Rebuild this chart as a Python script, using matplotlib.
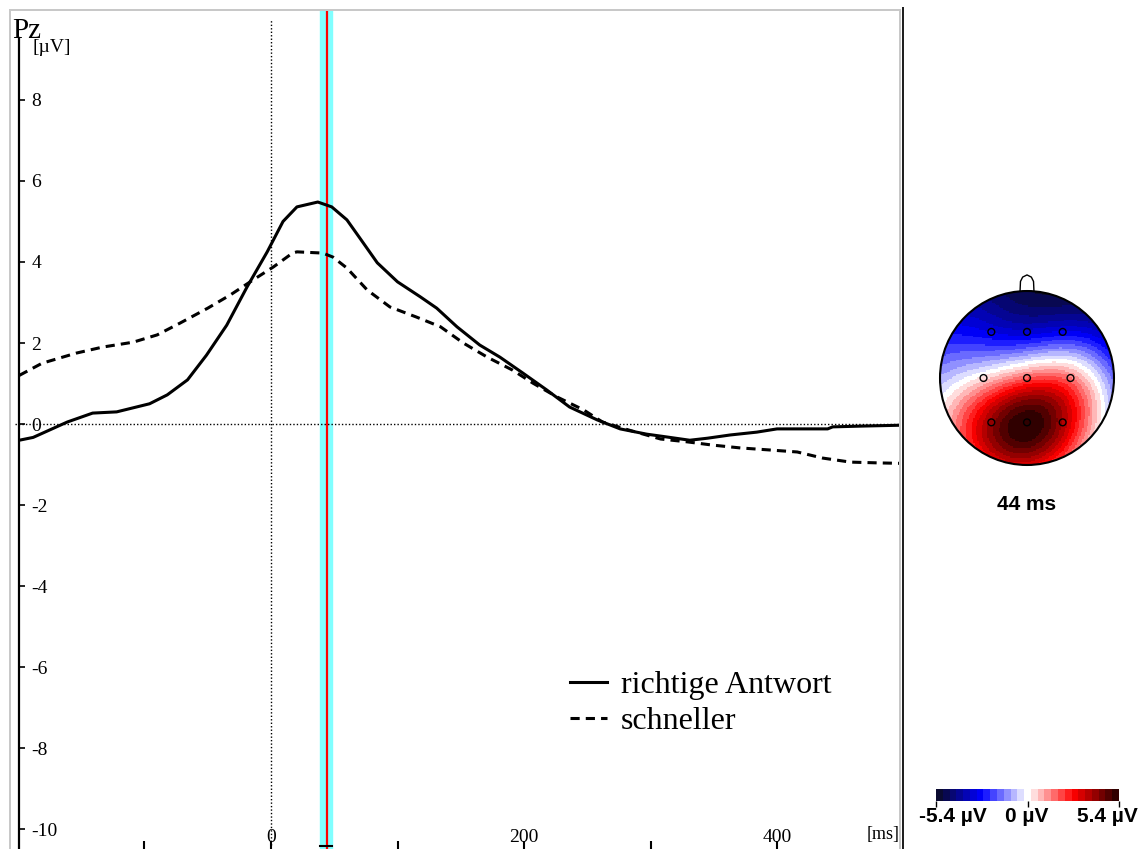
import numpy as np
import matplotlib
matplotlib.use("Agg")
import matplotlib.pyplot as plt
from matplotlib.colors import LinearSegmentedColormap, Normalize
from matplotlib.lines import Line2D
from matplotlib.patches import Circle
from matplotlib.cm import ScalarMappable
from numpy.polynomial import legendre

# ERP at Pz (ms, microvolt)
t_richtig = [-199, -188, -161, -141, -122, -109, -96, -82, -66, -51, -35, -19, -3, 9.5, 20.5,
             37, 48, 60, 70, 84, 100, 118, 131, 147, 165, 181, 199, 218, 236, 258, 276,
             297, 313, 331, 345, 363, 384, 400, 440, 444, 468, 497]
v_richtig = [-0.4, -0.33, 0.05, 0.27, 0.3, 0.4, 0.5, 0.72, 1.09, 1.7, 2.44, 3.38, 4.25, 5.0, 5.36,
             5.48, 5.36, 5.04, 4.6, 3.98, 3.51, 3.14, 2.86, 2.4, 1.95, 1.65, 1.26, 0.84, 0.42, 0.1, -0.12,
             -0.25, -0.32, -0.4, -0.35, -0.27, -0.2, -0.12, -0.12, -0.07, -0.05, -0.03]

t_schnell = [-199, -181, -154, -133, -109, -90, -72, -50, -32, -14, 2, 17, 20.5, 41, 49, 60,
             76, 94, 115, 134, 152, 171, 191, 207, 226, 247, 262, 283, 308, 329, 349, 371,
             394, 416, 436, 458, 481, 497]
v_schnell = [1.2, 1.5, 1.75, 1.9, 2.02, 2.2, 2.49, 2.86, 3.19, 3.56, 3.88, 4.22, 4.25, 4.22, 4.12, 3.85,
             3.31, 2.89, 2.64, 2.4, 2.0, 1.65, 1.33, 1.01, 0.67, 0.35, 0.05, -0.15, -0.37, -0.44, -0.52, -0.59,
             -0.64, -0.69, -0.84, -0.94, -0.96, -0.97]

legend_labels = ["richtige Antwort", "schneller"]
y_ticks = [8, 6, 4, 2, 0, -2, -4, -6, -8, -10]
x_ticks = [-100, 0, 100, 200, 300, 400]
x_ticklabels = ["", "0", "", "200", "", "400"]

# cursor / topography
t_cursor = 44
cursor_band = (39, 48.5)
map_limit = 5.4
electrodes = ["F3", "Fz", "F4", "C3", "Cz", "C4", "P3", "Pz", "P4"]
elec_x = [-0.41, 0.0, 0.41, -0.5, 0.0, 0.5, -0.41, 0.0, 0.41]
elec_y = [0.53, 0.53, 0.53, 0.0, 0.0, 0.0, -0.51, -0.51, -0.51]
elec_val = [-3.0, -3.2, -2.9, 0.4, 1.8, 1.5, 4.0, 5.4, 3.8]

W, H = 1145, 849
fig = plt.figure(figsize=(W / 100, H / 100), dpi=100)
serif = "Liberation Serif"
sans = "Liberation Sans"

# main ERP axes
ax = fig.add_axes([19 / W, 0, 881 / W, 839 / H])
ax.set_xlim(-199.2, 497.2)
ax.set_ylim(-10.49, 10.22)
for s in ["top", "right", "bottom"]:
    ax.spines[s].set_visible(False)
ax.spines["left"].set_bounds(-10.49, 9.53)
ax.spines["left"].set_linewidth(1.6)

ax.axvspan(*cursor_band, color="#80ffff", zorder=1)
ax.axvline(t_cursor, color="red", lw=1.6, zorder=2)
ax.plot(cursor_band, [-10.42, -10.42], color="black", lw=1.5, clip_on=False)

ax.plot([-202, 497.2], [0, 0], color="black", lw=1, ls=(0, (1, 1.5)), clip_on=False, zorder=2)
ax.plot([0, 0], [-10.4, 10.0], color="black", lw=1, ls=(0, (1, 1.5)), zorder=2)

l1, = ax.plot(t_richtig, v_richtig, color="black", lw=2.2, zorder=3)
l2, = ax.plot(t_schnell, v_schnell, color="black", lw=2.2, ls=(0, (3, 2)), zorder=3)

ax.set_yticks(y_ticks)
ax.set_yticklabels([str(v) for v in y_ticks], fontfamily=serif, fontsize=14)
for lab in ax.get_yticklabels():
    lab.set_horizontalalignment("left")
ax.tick_params(axis="y", direction="in", length=4.5, width=1.2, pad=-9)

ax.set_xticks(x_ticks)
ax.set_xticklabels(x_ticklabels, fontfamily=serif, fontsize=14)
ax.tick_params(axis="x", direction="in", length=6, width=1.5, pad=-14.5)

ax.text(484, -10.12, "[ms]", fontfamily=serif, fontsize=13, ha="center", va="center")
fig.text(12 / W, 1 - 38 / H, "Pz", fontfamily=serif, fontsize=21, ha="left", va="baseline")
fig.text(32 / W, 1 - 48 / H, "[µV]", fontfamily=serif, fontsize=14, ha="left", va="center")

ax.legend([l1, l2], legend_labels, loc="upper left", bbox_to_anchor=(570 / W, 1 - 671 / H),
          bbox_transform=fig.transFigure, frameon=False, borderpad=0, borderaxespad=0,
          handlelength=1.15, handletextpad=0.45, labelspacing=0.2,
          prop={"family": serif, "size": 23})

# frame lines
for (x0, y0, x1, y1, c, w) in [(10, 10, 10, 849, "#c8c8c8", 2), (10, 10, 900, 10, "#c8c8c8", 2),
                               (900, 10, 900, 849, "#c8c8c8", 2), (902.5, 8, 902.5, 849, "#202020", 2)]:
    fig.add_artist(Line2D([x0 / W, x1 / W], [1 - y0 / H, 1 - y1 / H], transform=fig.transFigure,
                          color=c, lw=w * 0.72))

# colormap
cmap = LinearSegmentedColormap.from_list(
    "bwr_dark",
    [(0.0, "#0a0a30"), (0.24, "#0000ff"), (0.46, "#dcdcff"), (0.5, "#ffffff"),
     (0.54, "#ffdcdc"), (0.76, "#ff0000"), (1.0, "#300000")], N=27)
norm = Normalize(-map_limit, map_limit)


def to_sphere(x, y):
    r = np.hypot(x, y)
    th = r * np.pi / 2
    ph = np.arctan2(y, x)
    return np.stack([np.sin(th) * np.cos(ph), np.sin(th) * np.sin(ph), np.cos(th)], axis=-1)


n = np.arange(1, 40)
coefs = np.concatenate([[0], (2 * n + 1) / (n * (n + 1)) ** 4 / (4 * np.pi)])

E = to_sphere(np.array(elec_x), np.array(elec_y))
G = legendre.legval(np.clip(E @ E.T, -1, 1), coefs)
k = len(elec_val)
A = np.zeros((k + 1, k + 1))
A[:k, :k] = G
A[:k, k] = 1
A[k, :k] = 1
sol = np.linalg.solve(A, np.concatenate([elec_val, [0]]))

gx = np.linspace(-1, 1, 121)
GX, GY = np.meshgrid(gx, gx)
P = to_sphere(GX.ravel(), GY.ravel())
Z = legendre.legval(np.clip(P @ E.T, -1, 1), coefs) @ sol[:k] + sol[k]
Z = Z.reshape(GX.shape)

tax = fig.add_axes([912 / W, 1 - 493 / H, 230 / W, 230 / H])
tax.set_xlim(-1.322, 1.322)
tax.set_ylim(-1.322, 1.322)
tax.axis("off")
im = tax.imshow(Z, extent=(-1, 1, -1, 1), origin="lower", cmap=cmap, norm=norm, interpolation="nearest")
head = Circle((0, 0), 1.0, transform=tax.transData, fill=False, ec="black", lw=1.5)
im.set_clip_path(head)
tax.add_patch(head)
nose_x = [-0.08, -0.075, -0.05, 0, 0.05, 0.075, 0.08]
nose_y = [0.997, 1.11, 1.16, 1.185, 1.16, 1.11, 0.997]
tax.plot(nose_x, nose_y, color="black", lw=1.0)
tax.scatter(elec_x, elec_y, s=24, facecolors="none", edgecolors="black", linewidths=1.0, zorder=3)

fig.text(1027 / W, 1 - 505 / H, f"{t_cursor} ms", fontfamily=sans, fontweight="bold",
         fontsize=15, ha="center", va="center")

# colour bar
cax = fig.add_axes([936 / W, 1 - 801 / H, 183 / W, 12 / H])
cb = fig.colorbar(ScalarMappable(norm=norm, cmap=cmap), cax=cax, orientation="horizontal")
cb.outline.set_visible(False)
cb.set_ticks([-map_limit, 0, map_limit])
cb.set_ticklabels(["", "", ""])
cax.tick_params(axis="x", length=4, width=1.0, color="black")
for xpix, txt in [(953, f"-{map_limit} µV"), (1027, "0 µV"), (1107, f"{map_limit} µV")]:
    fig.text(xpix / W, 1 - 817 / H, txt, fontfamily=sans, fontweight="bold", fontsize=15,
             ha="center", va="center")

fig.savefig("out.png", dpi=100)
